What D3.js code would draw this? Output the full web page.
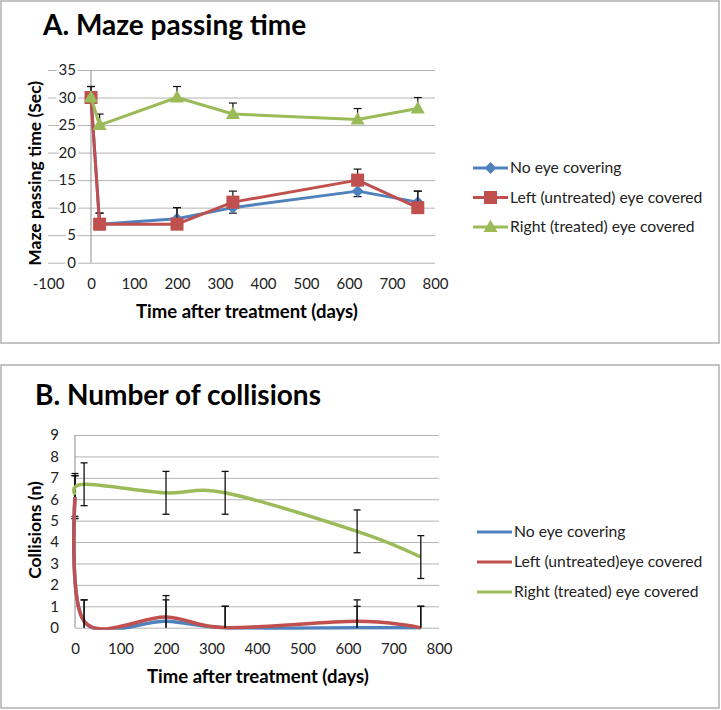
<!DOCTYPE html>
<html><head><meta charset="utf-8">
<script src="https://cdn.jsdelivr.net/npm/d3@7/dist/d3.min.js"></script>
<style>
html,body{margin:0;padding:0;background:#fff;}
svg{display:block;font-family:Lato,"Open Sans",sans-serif;}
</style></head>
<body>
<svg id="c" width="721" height="710"></svg>
<script>
// ---------- Data ----------
const seriesNames = ["No eye covering", "Left (untreated) eye covered", "Right (treated) eye covered"];
const seriesNamesB = ["No eye covering", "Left (untreated)eye covered", "Right (treated) eye covered"];
const colors = ["#4F81BD", "#C0504D", "#9BBB59"];

// Panel A: Maze passing time (Sec)
const daysA = [0, 20, 200, 330, 620, 760];
const noCoverA = [30, 7, 8, 10, 13, 11];
const leftCoverA = [30, 7, 7, 11, 15, 10];
const rightCoverA = [30, 25, 30, 27, 26, 28];
const noCoverAErrPlus = [1, 2, 2, 1, 1, 2];
const noCoverAErrMinus = [1, 1, 1, 1, 1, 1];
const leftCoverAErrPlus = [2, 2, 3, 2, 2, 3];
const leftCoverAErrMinus = [0, 0, 0, 0, 0, 0];
const rightCoverAErrPlus = [2, 2, 2, 2, 2, 2];
const rightCoverAErrMinus = [0, 0, 0, 0, 0, 0];
const xTicksA = [-100, 0, 100, 200, 300, 400, 500, 600, 700, 800];
const yTicksA = [0, 5, 10, 15, 20, 25, 30, 35];

// Panel B: Collisions (n)
const daysB = [0, 20, 200, 330, 620, 760];
const noCoverB = [6.1, 0.3, 0.3, 0, 0, 0];
const leftCoverB = [6.1, 0.3, 0.5, 0, 0.3, 0];
const rightCoverB = [6.2, 6.7, 6.3, 6.3, 4.5, 3.3];
const noCoverBErr = [1, 1, 1, 1, 1, 1];
const leftCoverBErr = [1, 1, 1, 1, 1, 1];
const rightCoverBErr = [1, 1, 1, 1, 1, 1];
const xTicksB = [0, 100, 200, 300, 400, 500, 600, 700, 800];
const yTicksB = [0, 1, 2, 3, 4, 5, 6, 7, 8, 9];

// ---------- Drawing ----------
const svg = d3.select("#c");
const gridColor = "#b3b3b3";
const axisColor = "#8c8c8c";
const fmt = d => String(d);

svg.append("rect").attr("x", 1).attr("y", 1).attr("width", 718).attr("height", 342)
  .attr("fill", "#fff").attr("stroke", "#b0b0b0").attr("stroke-width", 1.5);
svg.append("rect").attr("x", 1).attr("y", 365).attr("width", 718).attr("height", 343)
  .attr("fill", "#fff").attr("stroke", "#b0b0b0").attr("stroke-width", 1.5);

function mk(vals, days, plus, minus) {
  return days.map((d, i) => ({x: d, y: vals[i], p: plus[i], m: minus[i]}));
}

// ===== Panel A =====
const xA = d3.scaleLinear().domain([-100, 800]).range([48, 435]);
const yA = d3.scaleLinear().domain([0, 35]).range([262.7, 70]);
const gA = svg.append("g");

gA.append("g").attr("transform", `translate(${xA(-100)},0)`)
  .call(d3.axisRight(yA).tickValues(yTicksA).tickSize(xA(800) - xA(-100)).tickFormat(""))
  .call(g => g.select(".domain").remove())
  .call(g => g.selectAll("line").attr("stroke", gridColor).attr("stroke-width", 1));
gA.append("line").attr("x1", xA(0)).attr("x2", xA(0)).attr("y1", yA(35)).attr("y2", yA(0))
  .attr("stroke", axisColor).attr("stroke-width", 1);
gA.append("g").attr("transform", `translate(${xA(0)},0)`)
  .call(d3.axisLeft(yA).tickValues(yTicksA).tickSize(0).tickPadding(15).tickFormat(fmt))
  .call(g => g.select(".domain").remove())
  .call(g => g.selectAll("text").attr("font-size", 15).attr("fill", "#222")
      .attr("font-family", "Lato").attr("stroke", "#fff").attr("stroke-width", 5)
      .attr("paint-order", "stroke"));
gA.append("g").attr("transform", `translate(0,${yA(0)})`)
  .call(d3.axisBottom(xA).tickValues(xTicksA).tickSize(0).tickPadding(16).tickFormat(fmt))
  .call(g => g.select(".domain").remove())
  .call(g => g.selectAll("text").attr("font-size", 15).attr("fill", "#222").attr("font-family", "Lato"));

const dataA = [
  mk(noCoverA, daysA, noCoverAErrPlus, noCoverAErrMinus),
  mk(leftCoverA, daysA, leftCoverAErrPlus, leftCoverAErrMinus),
  mk(rightCoverA, daysA, rightCoverAErrPlus, rightCoverAErrMinus)
];
const lineA = d3.line().x(d => xA(d.x)).y(d => yA(d.y));

function marker(sel, type, color, cx, cy) {
  if (type === 0) {
    sel.append("path").attr("d", `M${cx},${cy - 6}L${cx + 6},${cy}L${cx},${cy + 6}L${cx - 6},${cy}Z`)
      .attr("fill", color);
  } else if (type === 1) {
    sel.append("rect").attr("x", cx - 6.5).attr("y", cy - 6.5).attr("width", 13).attr("height", 13)
      .attr("fill", color);
  } else {
    sel.append("path").attr("d", `M${cx},${cy - 7.5}L${cx + 7},${cy + 5}L${cx - 7},${cy + 5}Z`)
      .attr("fill", color);
  }
}

dataA.forEach((ser, si) => {
  const g = gA.append("g");
  ser.forEach(d => {
    const top = d.y + d.p, bot = d.y - d.m;
    if (d.p > 0 || d.m > 0) {
      g.append("line").attr("x1", xA(d.x)).attr("x2", xA(d.x)).attr("y1", yA(top)).attr("y2", yA(bot))
        .attr("stroke", "#111").attr("stroke-width", 1.2);
    }
    if (d.p > 0) g.append("line").attr("x1", xA(d.x) - 4).attr("x2", xA(d.x) + 4)
      .attr("y1", yA(top)).attr("y2", yA(top)).attr("stroke", "#111").attr("stroke-width", 1.2);
    if (d.m > 0) g.append("line").attr("x1", xA(d.x) - 4).attr("x2", xA(d.x) + 4)
      .attr("y1", yA(bot)).attr("y2", yA(bot)).attr("stroke", "#111").attr("stroke-width", 1.2);
  });
  g.append("path").datum(ser).attr("d", lineA).attr("fill", "none")
    .attr("stroke", colors[si]).attr("stroke-width", 3).attr("stroke-linejoin", "round");
  ser.forEach(d => marker(g, si, colors[si], xA(d.x), yA(d.y)));
});

svg.append("text").attr("x", 43).attr("y", 35).attr("font-size", 28).attr("font-weight", "bold")
  .attr("fill", "#000").text("A. Maze passing time");
svg.append("text").attr("transform", `translate(41,${(yA(0) + yA(35)) / 2 + 7}) rotate(-90)`)
  .attr("text-anchor", "middle").attr("font-size", 17.5).attr("font-weight", "bold").attr("fill", "#000")
  .text("Maze passing time (Sec)");
svg.append("text").attr("x", 247).attr("y", 318).attr("text-anchor", "middle")
  .attr("font-size", 18.5).attr("font-weight", "bold").attr("fill", "#000")
  .text("Time after treatment (days)");

const legA = svg.append("g");
[168, 197.5, 227].forEach((yy, i) => {
  legA.append("line").attr("x1", 473).attr("x2", 508).attr("y1", yy).attr("y2", yy)
    .attr("stroke", colors[i]).attr("stroke-width", 3);
  marker(legA, i, colors[i], 490.5, yy);
  legA.append("text").attr("x", 510).attr("y", yy + 5).attr("font-size", 15.7).attr("fill", "#222")
    .text(seriesNames[i]);
});

// ===== Panel B =====
const xB = d3.scaleLinear().domain([0, 800]).range([75, 439]);
const yB = d3.scaleLinear().domain([0, 9]).range([627.7, 435]);
const gB = svg.append("g");

svg.append("clipPath").attr("id", "clipB").append("rect")
  .attr("x", xB(0) - 3).attr("y", yB(9)).attr("width", xB(800) - xB(0) + 3).attr("height", yB(0) - yB(9) + 2);

gB.append("g").attr("transform", `translate(${xB(0)},0)`)
  .call(d3.axisRight(yB).tickValues(yTicksB).tickSize(xB(800) - xB(0)).tickFormat(""))
  .call(g => g.select(".domain").remove())
  .call(g => g.selectAll("line").attr("stroke", gridColor).attr("stroke-width", 1));
gB.append("line").attr("x1", xB(0)).attr("x2", xB(0)).attr("y1", yB(9)).attr("y2", yB(0))
  .attr("stroke", axisColor).attr("stroke-width", 1);
gB.append("g").attr("transform", `translate(${xB(0)},0)`)
  .call(d3.axisLeft(yB).tickValues(yTicksB).tickSize(0).tickPadding(16).tickFormat(fmt))
  .call(g => g.select(".domain").remove())
  .call(g => g.selectAll("text").attr("font-size", 15).attr("fill", "#222").attr("font-family", "Lato"));
gB.append("g").attr("transform", `translate(0,${yB(0)})`)
  .call(d3.axisBottom(xB).tickValues(xTicksB).tickSize(0).tickPadding(16).tickFormat(fmt))
  .call(g => g.select(".domain").remove())
  .call(g => g.selectAll("text").attr("font-size", 15).attr("fill", "#222").attr("font-family", "Lato"));

const dataB = [
  mk(noCoverB, daysB, noCoverBErr, noCoverBErr),
  mk(leftCoverB, daysB, leftCoverBErr, leftCoverBErr),
  mk(rightCoverB, daysB, rightCoverBErr, rightCoverBErr)
];
const lineB = d3.line().x(d => xB(d.x)).y(d => yB(d.y)).curve(d3.curveCardinal.tension(0));
const clampB = v => Math.max(0, Math.min(9, v));

function errB(g, d, stem) {
  const top = clampB(d.y + d.p), bot = clampB(d.y - d.m);
  if (stem) g.append("line").attr("x1", xB(d.x)).attr("x2", xB(d.x)).attr("y1", yB(top)).attr("y2", yB(bot))
    .attr("stroke", "#111").attr("stroke-width", 1.3);
  if (d.y + d.p <= 9) g.append("line").attr("x1", xB(d.x) - 3.5).attr("x2", xB(d.x) + 3.5)
    .attr("y1", yB(top)).attr("y2", yB(top)).attr("stroke", "#111").attr("stroke-width", 1.3);
  if (d.y - d.m >= 0) g.append("line").attr("x1", xB(d.x) - 3.5).attr("x2", xB(d.x) + 3.5)
    .attr("y1", yB(bot)).attr("y2", yB(bot)).attr("stroke", "#111").attr("stroke-width", 1.3);
}

// error bars on the axis (first point) sit beneath the curves
const under = gB.append("g");
dataB.forEach(ser => errB(under, ser[0], true));

const linesB = gB.append("g").attr("clip-path", "url(#clipB)");
dataB.forEach((ser, si) => {
  linesB.append("path").datum(ser).attr("d", lineB).attr("fill", "none")
    .attr("stroke", colors[si]).attr("stroke-width", 3.5).attr("stroke-linejoin", "round");
});
const over = gB.append("g");
dataB.forEach(ser => ser.slice(1).forEach(d => errB(over, d, true)));

svg.append("text").attr("x", 35).attr("y", 405).attr("font-size", 28).attr("font-weight", "bold")
  .attr("fill", "#000").text("B. Number of collisions");
svg.append("text").attr("transform", `translate(41,530) rotate(-90)`)
  .attr("text-anchor", "middle").attr("font-size", 17.5).attr("font-weight", "bold").attr("fill", "#000")
  .text("Collisions (n)");
svg.append("text").attr("x", 258).attr("y", 683).attr("text-anchor", "middle")
  .attr("font-size", 18.5).attr("font-weight", "bold").attr("fill", "#000")
  .text("Time after treatment (days)");

const legB = svg.append("g");
[532, 562, 592].forEach((yy, i) => {
  legB.append("line").attr("x1", 477).attr("x2", 512).attr("y1", yy).attr("y2", yy)
    .attr("stroke", colors[i]).attr("stroke-width", 3);
  legB.append("text").attr("x", 514).attr("y", yy + 5).attr("font-size", 15.7).attr("fill", "#222")
    .text(seriesNamesB[i]);
});
</script>
</body></html>
